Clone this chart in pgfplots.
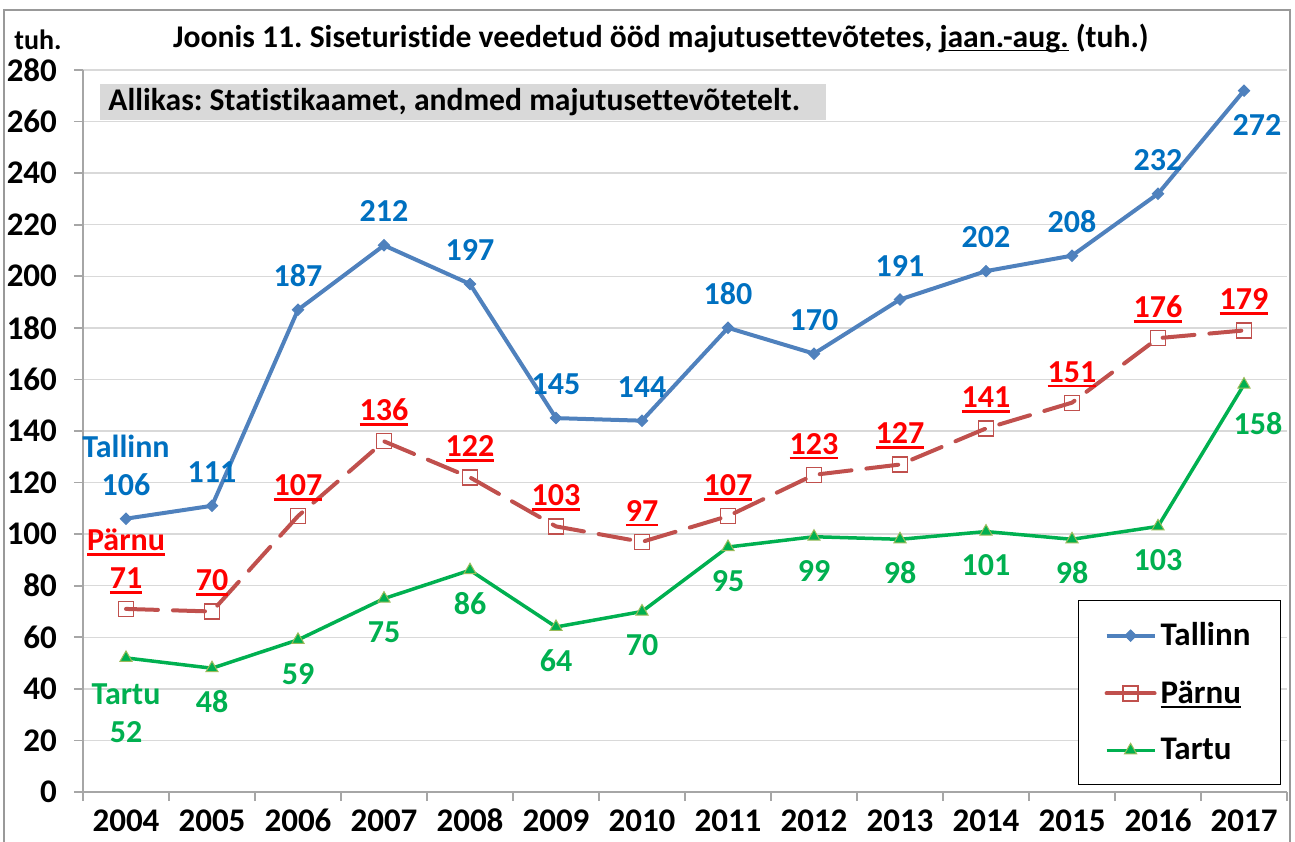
\documentclass[border=0pt]{standalone}
\usepackage{pgfplots}
\pgfplotsset{compat=1.18}
\usepackage{fontspec}
\setmainfont{Carlito}[Ligatures=CommonOff]
\frenchspacing
\definecolor{tblue}{HTML}{4F81BD}
\definecolor{lblue}{HTML}{0070C0}
\definecolor{pred}{HTML}{C0504D}
\definecolor{lred}{HTML}{FF0000}
\definecolor{tgreen}{HTML}{00B050}
\definecolor{tedge}{HTML}{9BBB59}
\definecolor{gridc}{HTML}{D9D9D9}
\definecolor{axc}{HTML}{A6A6A6}
\newcommand\myul[1]{\setbox0\hbox{#1}\rlap{\rule[-2.6pt]{\wd0}{1.35pt}}\box0\relax}
\newcommand\myult[1]{\setbox0\hbox{#1}\rlap{\rule[-2.2pt]{\wd0}{0.9pt}}\box0\relax}
\newcommand\labfont{\bfseries\fontsize{16}{19}\selectfont}
\begin{document}
\begin{tikzpicture}[x=1pt,y=1pt]
\useasboundingbox (-41.5,-24.5) rectangle (606,396);
\draw[line width=1pt, draw=gray!80] (-39.5,-30) rectangle (603.5,391);
\begin{axis}[
  scale only axis, width=602pt, height=361pt,
  xmin=-0.5, xmax=13.5, ymin=0, ymax=280,
  axis lines=left, axis line style={-, draw=axc, line width=0.8pt},
  xtick={0,...,13},
  xticklabels={2004,2005,2006,2007,2008,2009,2010,2011,2012,2013,2014,2015,2016,2017},
  ytick={0,20,...,280},
  ymajorgrids, grid style={draw=gridc, line width=0.7pt},
  tick align=outside, major tick length=4.5pt,
  major x tick style={draw=none},
  y tick style={draw=axc, line width=0.8pt},
  extra x ticks={-0.5,0.5,...,13.5}, extra x tick labels={},
  extra x tick style={grid=none, major x tick style={draw=axc, line width=0.8pt}},
  tick label style={font=\bfseries\fontsize{16.5}{18}\selectfont},
  yticklabel style={xshift=-5pt},
  xticklabel style={text height=10.5pt, text depth=0pt, yshift=-1pt},
  /pgf/number format/assume math mode=true,
  clip=false,
  legend style={at={(axis description cs:0.8264,0.2659)}, anchor=north west,
    draw=black, line width=0.6pt, fill=white, font=\bfseries\fontsize{16.5}{18}\selectfont,
    row sep=12pt, inner xsep=13pt, inner ysep=9pt},
  legend cell align=left,
  legend image code/.code={\draw[mark repeat=2,mark phase=2,#1] plot coordinates {(0pt,0pt) (12pt,0pt) (24pt,0pt)};},
]
% Tallinn
\addplot[color=tblue, line width=2pt, mark=square*, mark size=2pt, mark options={rotate=45, fill=tblue, draw=tblue, line width=0.5pt}]
 coordinates {(0,106) (1,111) (2,187) (3,212) (4,197) (5,145) (6,144) (7,180) (8,170) (9,191) (10,202) (11,208) (12,232) (13,272)};
\addlegendentry{Tallinn}
% Parnu
\addplot[color=pred, line width=2pt, dash pattern=on 16pt off 7.5pt, line cap=round, mark=square, mark size=3.75pt, mark options={solid, draw=pred, line width=0.6pt},
  legend image post style={solid}]
 coordinates {(0,71) (1,70) (2,107) (3,136) (4,122) (5,103) (6,97) (7,107) (8,123) (9,127) (10,141) (11,151) (12,176) (13,179)};
\addlegendentry{\myul{Pärnu}}
% Tartu
\addplot[color=tgreen, line width=1.75pt, mark=triangle*, mark size=3.5pt, mark options={fill=tgreen, draw=tedge, line width=0.5pt}]
 coordinates {(0,52) (1,48) (2,59) (3,75) (4,86) (5,64) (6,70) (7,95) (8,99) (9,98) (10,101) (11,98) (12,103) (13,158)};
\addlegendentry{Tartu}
% Tallinn labels
\addplot[draw=none, mark=none, forget plot, nodes near coords, point meta=explicit symbolic,
  every node near coord/.append style={yshift=11.5pt, text=lblue, font=\labfont, inner sep=0pt, align=center}]
 coordinates {(0,106) [{Tallinn\\106}] (1,111) [111] (2,187) [187] (3,212) [212] (4,197) [197] (5,145) [145] (6,144) [144] (7,180) [180] (8,170) [170] (9,191) [191] (10,202) [202] (11,208) [208] (12,232) [232]};
\addplot[draw=none, mark=none, forget plot, nodes near coords, point meta=explicit symbolic,
  every node near coord/.append style={yshift=-22.5pt, xshift=6.5pt, text=lblue, font=\labfont, inner sep=0pt}]
 coordinates {(13,272) [272]};
% Parnu labels
\addplot[draw=none, mark=none, forget plot, nodes near coords, point meta=explicit symbolic,
  every node near coord/.append style={yshift=7.5pt, text=lred, font=\labfont, inner sep=0pt, align=center}]
 coordinates {(0,71) [{\myul{Pärnu}\\\myul{71}}] (1,70) [\myul{70}] (2,107) [\myul{107}] (3,136) [\myul{136}] (4,122) [\myul{122}] (5,103) [\myul{103}] (6,97) [\myul{97}] (7,107) [\myul{107}] (8,123) [\myul{123}] (9,127) [\myul{127}] (10,141) [\myul{141}] (11,151) [\myul{151}] (12,176) [\myul{176}] (13,179) [\myul{179}]};
% Tartu labels
\addplot[draw=none, mark=none, forget plot, nodes near coords, point meta=explicit symbolic,
  every node near coord/.append style={yshift=-22.5pt, text=tgreen, font=\labfont, inner sep=0pt}]
 coordinates {(1,48) [48] (2,59) [59] (3,75) [75] (4,86) [86] (5,64) [64] (6,70) [70] (7,95) [95] (8,99) [99] (9,98) [98] (10,101) [101] (11,98) [98] (12,103) [103]};
\addplot[draw=none, mark=none, forget plot, nodes near coords, point meta=explicit symbolic,
  every node near coord/.append style={yshift=-12.6pt, text=tgreen, font=\labfont, inner sep=0pt, anchor=north, align=center}]
 coordinates {(0,52) [{Tartu\\52}]};
\addplot[draw=none, mark=none, forget plot, nodes near coords, point meta=explicit symbolic,
  every node near coord/.append style={yshift=-25.5pt, xshift=7pt, text=tgreen, font=\labfont, inner sep=0pt}]
 coordinates {(13,158) [158]};
\end{axis}
\fill[gridc] (8.5,336) rectangle (371.5,354);
\node[anchor=west, inner sep=0pt, font=\bfseries\fontsize{15.8}{18}\selectfont] at (12.5,345) {Allikas: Statistikaamet, andmed majutusettevõtetelt.};
\node[inner sep=0pt, font=\bfseries\fontsize{15.8}{18}\selectfont] at (289,377) {Joonis 11. Siseturistide veedetud ööd majutusettevõtetes, \myult{jaan.-aug.} (tuh.)};
\node[inner sep=0pt, font=\bfseries\fontsize{14}{16}\selectfont] at (-22.5,376) {tuh.};
\end{tikzpicture}
\end{document}
